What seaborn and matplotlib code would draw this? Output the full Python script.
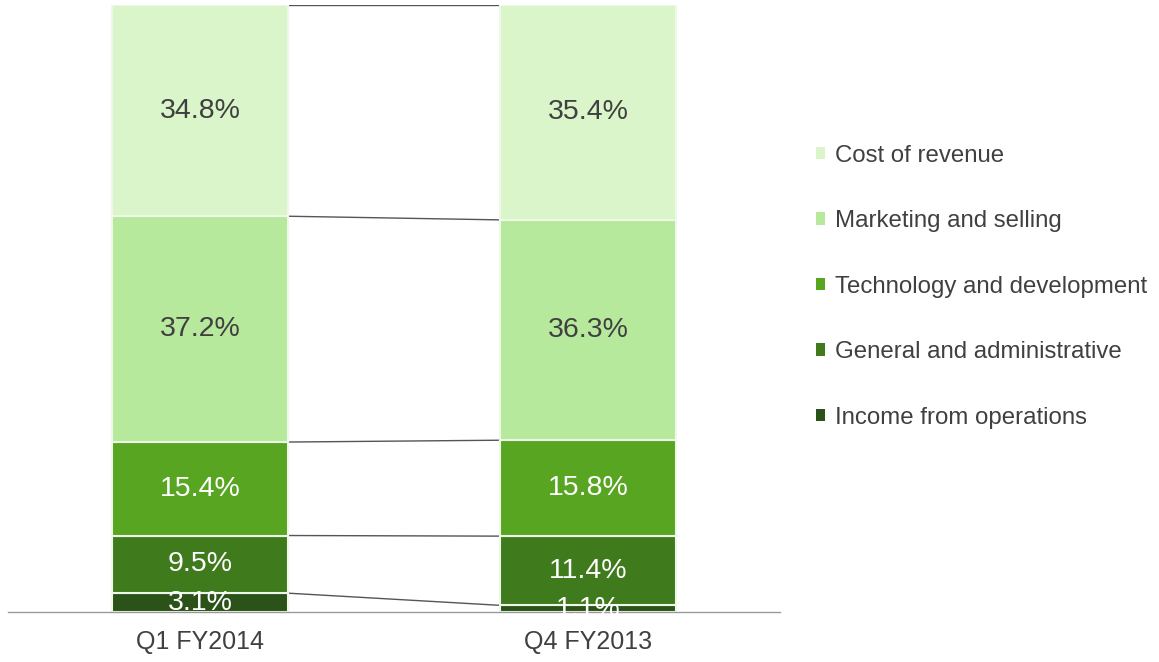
import matplotlib
matplotlib.use("Agg")
import matplotlib.pyplot as plt
import seaborn as sns
import numpy as np
from matplotlib.patches import Patch

periods = ["Q1 FY2014", "Q4 FY2013"]
# stacked bottom to top
categories = ["Income from operations", "General and administrative",
              "Technology and development", "Marketing and selling", "Cost of revenue"]
values = {
    "Income from operations": [3.1, 1.1],
    "General and administrative": [9.5, 11.4],
    "Technology and development": [15.4, 15.8],
    "Marketing and selling": [37.2, 36.3],
    "Cost of revenue": [34.8, 35.4],
}
colors = {
    "Income from operations": "#2b5218",
    "General and administrative": "#3f7a1c",
    "Technology and development": "#57a520",
    "Marketing and selling": "#b7e99c",
    "Cost of revenue": "#daf5c9",
}
text_colors = {
    "Income from operations": "white",
    "General and administrative": "white",
    "Technology and development": "white",
    "Marketing and selling": "#404040",
    "Cost of revenue": "#404040",
}

sns.set_theme(style="white")
plt.rcParams['font.family'] = ['Liberation Sans', 'DejaVu Sans']

fig = plt.figure(figsize=(11.59, 6.62), dpi=100)
ax = fig.add_axes([8 / 1159, 50 / 662, 772 / 1159, 607 / 662])

bar_w = 0.455
bottom = np.zeros(len(periods))
bounds = []
for cat in categories:
    vals = np.array(values[cat])
    sns.barplot(x=periods, y=vals, bottom=bottom, color=colors[cat], width=bar_w,
                edgecolor="#eef8e8", linewidth=1.5, saturation=1, ax=ax)
    for i, v in enumerate(vals):
        ax.text(i, bottom[i] + v / 2, f"{v}%", ha="center", va="center",
                fontsize=20.5, color=text_colors[cat])
    bottom = bottom + vals
    bounds.append(bottom.copy())

# connector lines between segment boundaries
for b in bounds:
    ax.plot([bar_w / 2, 1 - bar_w / 2], [b[0], b[1]], color="#555555", lw=1, zorder=0)

ax.set_xlim(-0.495, 1.495)
ax.set_ylim(0, 100)
ax.set_yticks([])
ax.set_xlabel("")
ax.set_ylabel("")
for s in ["top", "left", "right"]:
    ax.spines[s].set_visible(False)
ax.spines["bottom"].set_color("#999999")
ax.spines["bottom"].set_linewidth(1)
ax.tick_params(axis="x", length=0, pad=13, labelsize=18, labelcolor="#404040")

handles = [Patch(facecolor=colors[c], edgecolor="none", label=c) for c in categories[::-1]]
fig.legend(handles=handles, loc="upper left", bbox_to_anchor=(794 / 1159, 1 - 123 / 662),
           frameon=False, fontsize=17.3, labelspacing=1.81, handlelength=0.4,
           handleheight=0.4, handletextpad=0.4, labelcolor="#404040")

fig.savefig("out.png", dpi=100)
